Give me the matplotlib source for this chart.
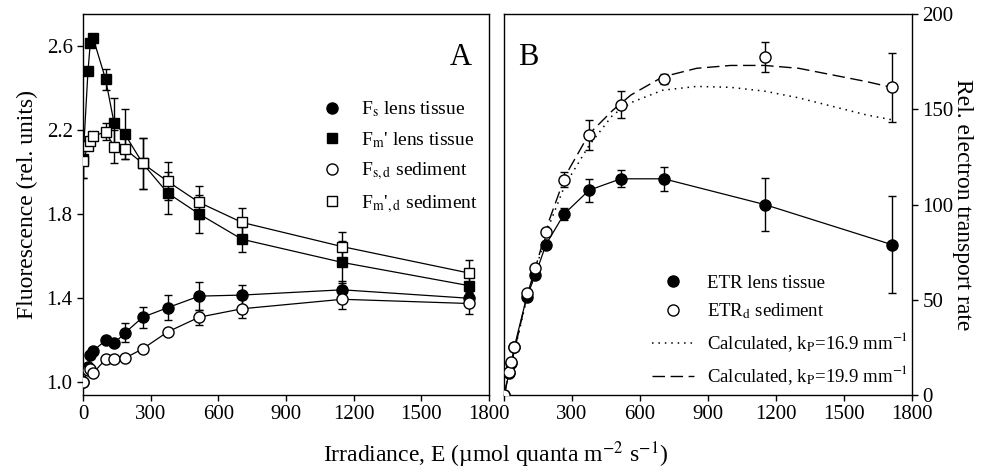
import matplotlib
matplotlib.use("Agg")
import matplotlib.pyplot as plt
from matplotlib.lines import Line2D
import numpy as np

plt.rcParams['font.family'] = ['Liberation Serif', 'DejaVu Serif']
plt.rcParams['mathtext.fontset'] = 'stix'

# irradiance steps (umol quanta m-2 s-1)
irr = [0, 22, 32, 45, 100, 138, 185, 265, 375, 515, 705, 1150, 1710]

# panel A, fluorescence (rel. units)
fs_lens = [1.0, 1.075, 1.13, 1.15, 1.20, 1.185, 1.235, 1.31, 1.355, 1.41, 1.415, 1.44, 1.40]
fs_lens_err = [0, 0, 0, 0, 0, 0.01, 0.045, 0.05, 0.06, 0.065, 0.05, 0.04, 0.03]
fm_lens = [2.06, 2.48, 2.61, 2.635, 2.44, 2.23, 2.18, 2.04, 1.90, 1.80, 1.68, 1.57, 1.46]
fm_lens_err = [0.09, 0, 0, 0, 0.05, 0.12, 0.12, 0.12, 0.10, 0.09, 0.06, 0.10, 0.04]
fs_sed = [1.0, 1.06, 1.065, 1.045, 1.11, 1.11, 1.115, 1.16, 1.24, 1.31, 1.35, 1.395, 1.375]
fs_sed_err = [0, 0, 0, 0, 0, 0.01, 0.01, 0.01, 0, 0.035, 0.045, 0.045, 0.05]
fm_sed = [2.05, 2.125, 2.145, 2.17, 2.19, 2.12, 2.11, 2.04, 1.955, 1.855, 1.76, 1.645, 1.52]
fm_sed_err = [0.08, 0.02, 0, 0, 0.04, 0.08, 0.05, 0.12, 0.09, 0.08, 0.07, 0.07, 0.06]

# panel B, relative electron transport rate
etr_lens = [0, 11.5, 17, 25, 51.5, 63, 79, 95, 107.5, 113.5, 113.5, 100, 79]
etr_lens_err = [0, 0, 0, 0, 0, 0, 0, 3, 6, 4.5, 6.3, 14, 25.5]
etr_sed = [0, 12, 17.5, 25, 53.5, 66.5, 85.5, 113, 136.5, 152.5, 166, 177.5, 161.5]
etr_sed_err = [0, 0, 0, 0, 0, 0, 0, 4, 8, 7, 2.5, 8, 18]

# calculated curves
calc_x = [0, 50, 100, 150, 200, 270, 375, 480, 560, 700, 850, 1000, 1150, 1300, 1450, 1600, 1710]
calc_169 = [0, 25, 50.5, 70, 89.5, 110.5, 131, 147, 153.5, 160, 162, 161.5, 159.5, 156, 151.5, 147, 144.5]
calc_199 = [0, 25.5, 51.5, 71.5, 92, 115, 137, 149.5, 157.5, 167, 171.5, 173, 173, 171.5, 168, 164.5, 161.5]

xticks = [0, 300, 600, 900, 1200, 1500, 1800]

fig = plt.figure(figsize=(9.91, 4.76), dpi=100)
axA = fig.add_axes([0.0838, 0.170, 0.4096, 0.8006])
axB = fig.add_axes([0.5086, 0.170, 0.4117, 0.8006])

lw = 0.9
ms_c = 8
ms_s = 7.2
ebkw = dict(ecolor='black', elinewidth=1.0, capsize=3, capthick=1.0)
dot_style = dict(color='black', lw=1.1, dashes=(1, 3.2))
dash_style = dict(color='black', lw=1.0, dashes=(9, 4))

def series(ax, y, err, marker, face, ms):
    ax.errorbar(irr, y, yerr=err, fmt='none', zorder=2, **ebkw)
    ax.plot(irr, y, '-', color='black', lw=lw, zorder=3)
    ax.plot(irr, y, linestyle='none', marker=marker, ms=ms, mfc=face, mec='black',
            mew=1.0, zorder=4)

# ---- panel A
series(axA, fm_lens, fm_lens_err, 's', 'black', ms_s)
series(axA, fm_sed, fm_sed_err, 's', 'white', ms_s)
series(axA, fs_lens, fs_lens_err, 'o', 'black', ms_c)
series(axA, fs_sed, fs_sed_err, 'o', 'white', ms_c)

axA.set_xlim(0, 1800)
axA.set_ylim(0.94, 2.75)
axA.set_yticks([1.0, 1.4, 1.8, 2.2, 2.6])
axA.set_yticklabels(['1.0', '1.4', '1.8', '2.2', '2.6'])
axA.set_xticks(xticks)
axA.set_xticklabels([str(t) for t in xticks])
axA.tick_params(direction='out', length=4, width=1, labelsize=15, top=False, right=False)
axA.set_ylabel('Fluorescence (rel. units)', fontsize=17, labelpad=6)
axA.text(0.93, 0.885, 'A', transform=axA.transAxes, fontsize=22, ha='center', va='center')

hA = [Line2D([], [], ls='none', marker='o', ms=ms_c, mfc='black', mec='black'),
      Line2D([], [], ls='none', marker='s', ms=ms_s, mfc='black', mec='black'),
      Line2D([], [], ls='none', marker='o', ms=ms_c, mfc='white', mec='black'),
      Line2D([], [], ls='none', marker='s', ms=ms_s, mfc='white', mec='black')]
lA = [r"F$_\mathrm{s}$ lens tissue", r"F$_\mathrm{m}$' lens tissue",
      r"F$_\mathrm{s,d}$ sediment", r"F$_\mathrm{m}$'$_\mathrm{,d}$ sediment"]
axA.legend(hA, lA, loc='upper left', bbox_to_anchor=(0.59, 0.775), frameon=False,
           fontsize=14, handletextpad=1.0, labelspacing=0.55, handlelength=1.0,
           borderpad=0, borderaxespad=0)

# ---- panel B
axB.plot(calc_x, calc_169, zorder=2, **dot_style)
axB.plot(calc_x, calc_199, zorder=2, **dash_style)
series(axB, etr_lens, etr_lens_err, 'o', 'black', ms_c)
axB.errorbar(irr, etr_sed, yerr=etr_sed_err, fmt='none', zorder=2, **ebkw)
axB.plot(irr, etr_sed, linestyle='none', marker='o', ms=ms_c, mfc='white', mec='black',
         mew=1.0, zorder=5)

axB.set_xlim(0, 1800)
axB.set_ylim(0, 200)
axB.set_xticks(xticks)
axB.set_xticklabels([''] + [str(t) for t in xticks[1:]])
axB.yaxis.tick_right()
axB.yaxis.set_label_position('right')
axB.set_yticks([0, 50, 100, 150, 200])
axB.tick_params(direction='out', length=4, width=1, labelsize=15, top=False, left=False)
axB.set_ylabel('Rel. electron transport rate', fontsize=17, rotation=270, labelpad=14)
axB.text(0.06, 0.885, 'B', transform=axB.transAxes, fontsize=22, ha='center', va='center')

hB = [Line2D([], [], ls='none', marker='o', ms=ms_c, mfc='black', mec='black'),
      Line2D([], [], ls='none', marker='o', ms=ms_c, mfc='white', mec='black'),
      Line2D([], [], **dot_style),
      Line2D([], [], **dash_style)]
lB = ["ETR lens tissue", r"ETR$_\mathrm{d}$ sediment",
      r"Calculated, k$_\mathrm{P}$=16.9 mm$^{-1}$",
      r"Calculated, k$_\mathrm{P}$=19.9 mm$^{-1}$"]
axB.legend(hB, lB, loc='lower right', bbox_to_anchor=(0.99, 0.02), frameon=False,
           fontsize=13.5, handletextpad=0.7, labelspacing=0.5, handlelength=2.2,
           borderpad=0, borderaxespad=0)

for ax in (axA, axB):
    for s in ax.spines.values():
        s.set_linewidth(1.0)

fig.text(0.50, 0.045, 'Irradiance, E (µmol quanta m$^{-2}$ s$^{-1}$)', fontsize=17,
         ha='center', va='center')

fig.savefig('out.png', dpi=100)
